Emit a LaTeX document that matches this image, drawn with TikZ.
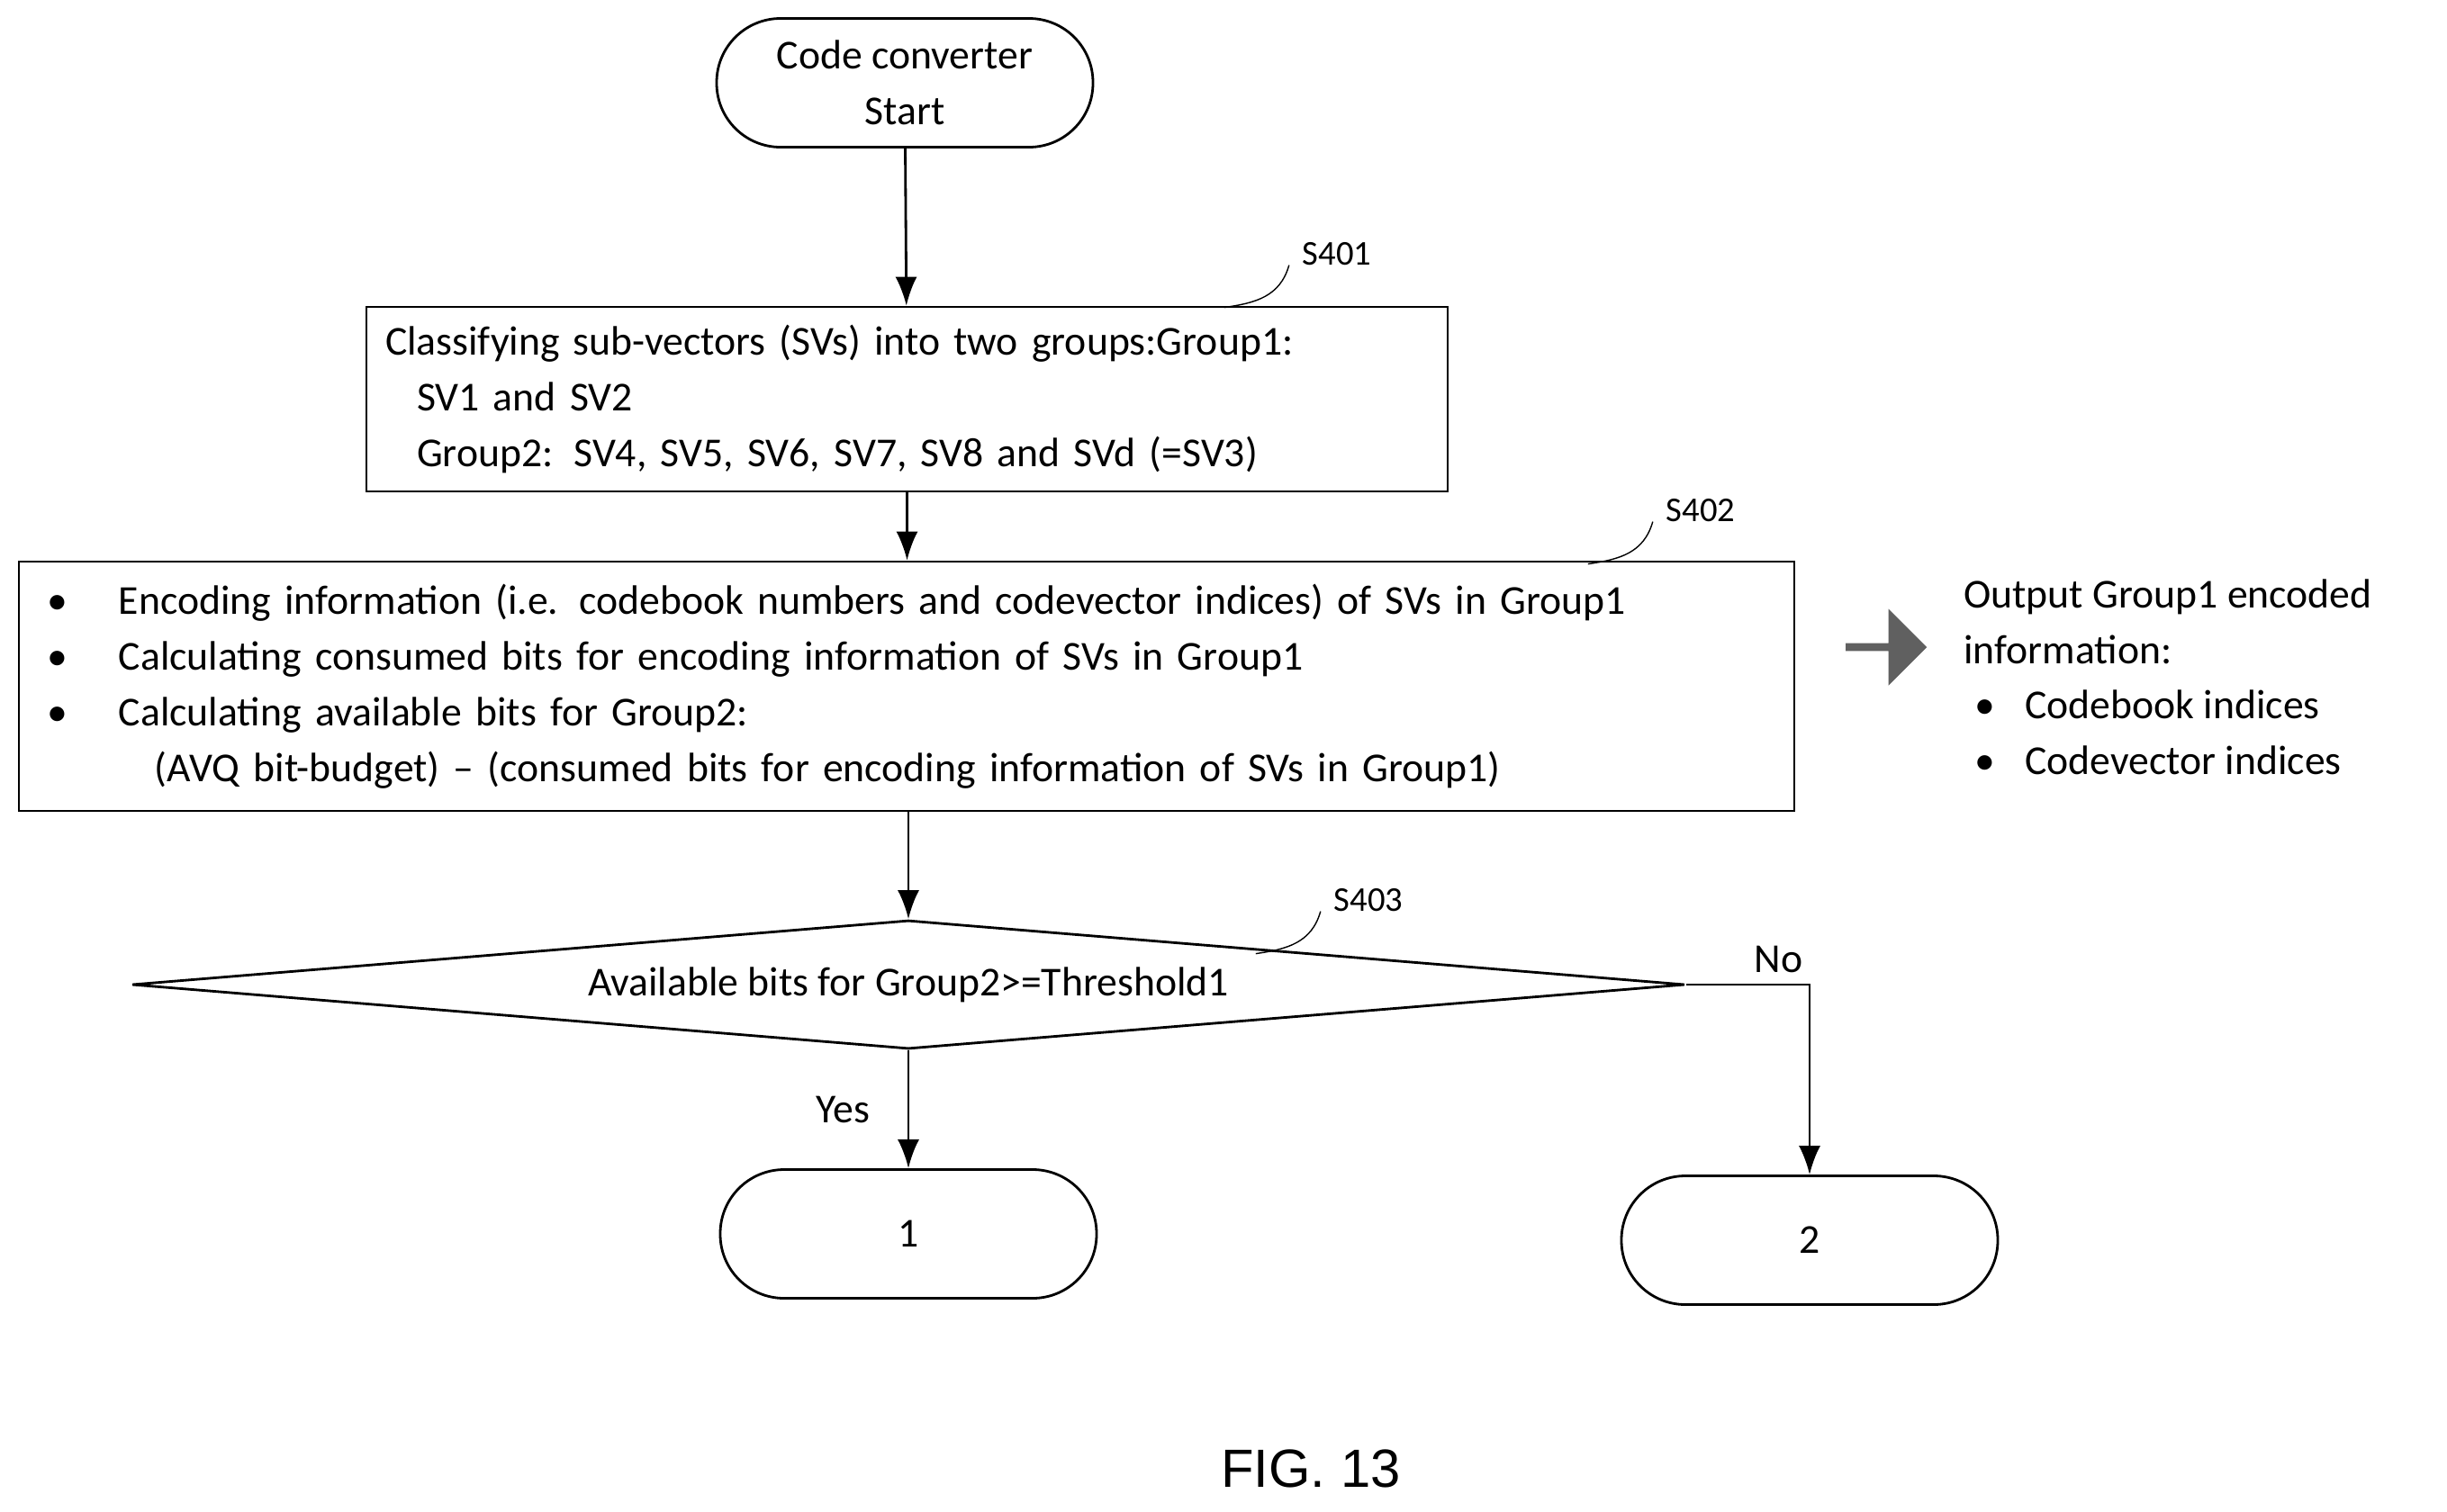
\documentclass[tikz,border=0pt]{standalone}
\usepackage{fontspec}
\setmainfont{Carlito}
\newfontfamily\figfont{Liberation Sans}
\usetikzlibrary{positioning,arrows.meta,shapes.geometric,shapes.arrows}

\begin{document}
\begin{tikzpicture}[x=1cm,y=1cm,>={Latex[length=0.32cm,width=0.24cm]},thick,
	font=\fontsize{13pt}{17.6pt}\selectfont]
	\tikzset{term/.style={draw,rectangle,rounded corners=0.71cm,minimum width=4.18cm,minimum height=1.43cm,align=center},
		proc/.style={draw,rectangle,inner xsep=0.21cm,align=left},
		steplbl/.style={inner sep=1pt,font=\fontsize{11pt}{12pt}\selectfont},
		wave/.style={thin}}
	\useasboundingbox (0,0) rectangle (27.18,-16.79);

	\node[term] (start) at (10.05,-0.92) {Code converter\\Start};

	\node[proc,minimum width=12.01cm,minimum height=2.05cm,text width=11.59cm] (s401) at (10.075,-4.435) {%
		Classifying sub-vectors (SVs) into two groups:Group1:\\
		\hspace*{0.35cm}SV1 and SV2\\
		\hspace*{0.35cm}Group2: SV4, SV5, SV6, SV7, SV8 and SVd (=SV3)};

	\node[proc,minimum width=19.72cm,minimum height=2.77cm,text width=19.3cm] (s402) at (10.07,-7.625) {%
		\makebox[0.9cm][l]{\hspace{0.1cm}\textbullet}Encoding information (i.e. codebook numbers and codevector indices) of SVs in Group1\\
		\makebox[0.9cm][l]{\hspace{0.1cm}\textbullet}Calculating consumed bits for encoding information of SVs in Group1\\
		\makebox[0.9cm][l]{\hspace{0.1cm}\textbullet}Calculating available bits for Group2:\\
		\hspace*{1.3cm}(AVQ bit-budget) -- (consumed bits for encoding information of SVs in Group1)};

	\node[draw,diamond,aspect=12,inner sep=0pt,minimum width=17.25cm,minimum height=1.43cm] (s403) at (10.09,-10.94) {};
	\node at (s403.center) {Available bits for Group2>=Threshold1};

	\node[term] (one) at (10.09,-13.71) {1};
	\node[term] (two) at (20.1,-13.78) {2};

	% step labels
	\node[steplbl] (l401) at (14.85,-2.82) {S401};
	\node[steplbl] (l402) at (18.89,-5.67) {S402};
	\node[steplbl] (l403) at (15.2,-10.0) {S403};
	\foreach \l in {l401,l402,l403}
		\draw[wave] ([shift={(-0.82,-0.42)}]\l.south west) .. controls +(0.35,0.05) and +(-0.1,-0.35) .. ([shift={(-0.1,0.05)}]\l.south west);

	% output side
	\node[single arrow,fill=gray!75!black,draw=none,minimum height=0.9cm,minimum width=0.85cm,single arrow head extend=0.12cm,inner sep=0pt] (out) at (20.93,-7.19) {};
	\node[align=left,anchor=north west,inner sep=0pt] (outtxt) at (21.8,-6.42) {%
		Output Group1 encoded\\
		information:\\
		\hspace*{0.12cm}\makebox[0.56cm][l]{\textbullet}Codebook indices\\
		\hspace*{0.12cm}\makebox[0.56cm][l]{\textbullet}Codevector indices};

	\draw[->] (start) -- (s401);
	\draw[->] (s401) -- (s401.south |- s402.north);
	\draw[->] (s402.south -| s403.north) -- (s403);
	\draw[->] (s403.south) -- node[left=0.3cm] {Yes} (one);
	\draw[->] (s403.east) -- node[above,near end] {No} (s403.east -| two.north) -- (two);

	\node[font=\figfont\fontsize{17pt}{20pt}\selectfont] (fig) at (14.56,-16.32) {FIG. 13};
\end{tikzpicture}
\end{document}
